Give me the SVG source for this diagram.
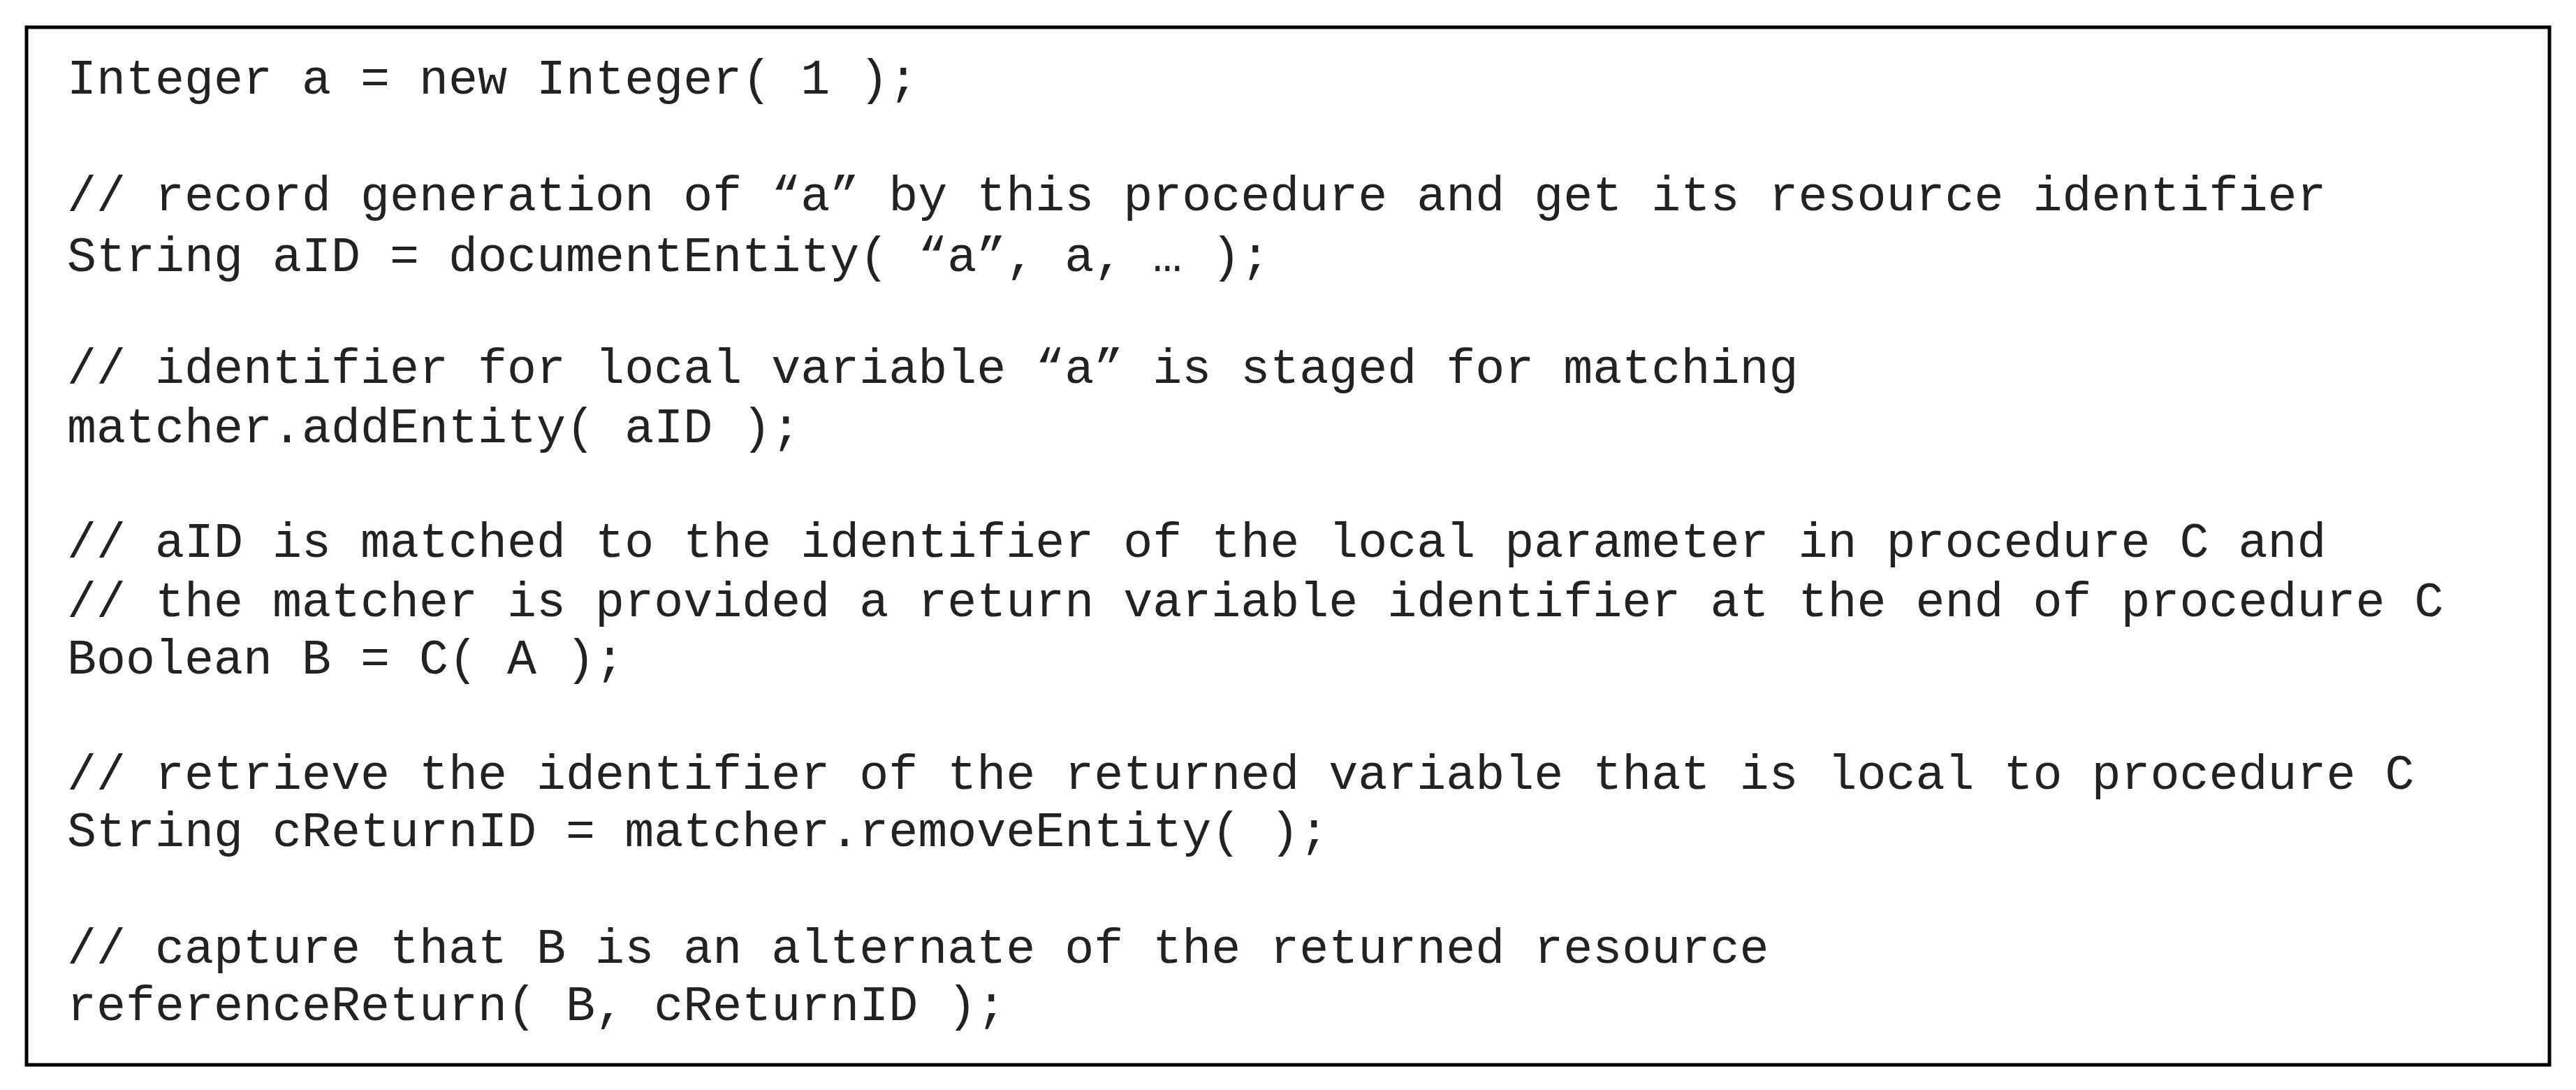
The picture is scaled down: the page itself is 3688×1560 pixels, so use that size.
<svg xmlns="http://www.w3.org/2000/svg" width="3688" height="1560" viewBox="0 0 3688 1560">
<style>
text{font-family:"Liberation Mono","Courier New",monospace;font-size:70px;fill:#222}
</style>
<rect width="3688" height="1560" fill="#fff"/>
<g id="box"><rect x="38" y="39" width="3612" height="1485" fill="#fff" stroke="#000" stroke-width="5"/></g>
<g id="code">
<text x="96" y="134">Integer a = new Integer( 1 );</text>
<text x="96" y="301">// record generation of “a” by this procedure and get its resource identifier</text>
<text x="96" y="388">String aID = documentEntity( “a”, a, … );</text>
<text x="96" y="548">// identifier for local variable “a” is staged for matching</text>
<text x="96" y="633">matcher.addEntity( aID );</text>
<text x="96" y="797">// aID is matched to the identifier of the local parameter in procedure C and</text>
<text x="96" y="882">// the matcher is provided a return variable identifier at the end of procedure C</text>
<text x="96" y="964">Boolean B = C( A );</text>
<text x="96" y="1129">// retrieve the identifier of the returned variable that is local to procedure C</text>
<text x="96" y="1211">String cReturnID = matcher.removeEntity( );</text>
<text x="96" y="1378">// capture that B is an alternate of the returned resource</text>
<text x="96" y="1460">referenceReturn( B, cReturnID );</text>
</g>
</svg>
